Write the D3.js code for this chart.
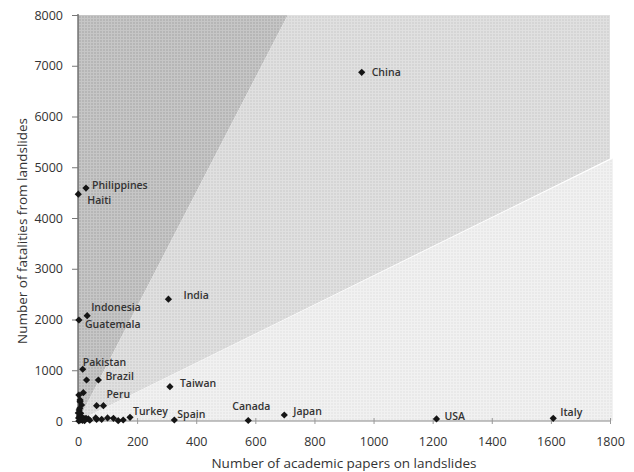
<!DOCTYPE html>
<html>
<head>
<meta charset="utf-8">
<script src="https://cdn.jsdelivr.net/npm/d3@7/dist/d3.min.js"></script>
<style>
  html, body { margin: 0; padding: 0; background: #fff; }
  svg { display: block; }
  text { font-family: "Open Sans", "DejaVu Sans", sans-serif; }
</style>
</head>
<body>
<svg id="chart" width="634" height="472"></svg>
<script>
// ---- data ----
const labeledNames  = ["China","Philippines","Haiti","India","Indonesia","Guatemala","Pakistan","Brazil","Peru","Taiwan","Turkey","Spain","Canada","Japan","USA","Italy"];
const labeledPapers = [960, 27, 1, 306, 31, 3, 16, 69, 86, 311, 176, 326, 576, 698, 1213, 1608];
const labeledDeaths = [6870, 4590, 4470, 2400, 2075, 1990, 1020, 808, 302, 676, 72, 20, 10, 118, 40, 53];
const otherPapers = [29, 63, 3, 18, 7, 7, 12, 4, 9, 5, 2, 10, 15, 20, 27, 35, 6, 3, 12, 63, 80, 120, 136, 153, 100, 40, 60, 1, 8, 14, 22];
const otherDeaths = [808, 302, 512, 558, 414, 380, 315, 217, 151, 100, 60, 30, 10, 50, 53, 40, 250, 0, 80, 33, 33, 53, 6, 20, 60, 15, 60, 160, 20, 45, 5];
const xTicks = [0, 200, 400, 600, 800, 1000, 1200, 1400, 1600, 1800];
const yTicks = [0, 1000, 2000, 3000, 4000, 5000, 6000, 7000, 8000];
// boundary lines of shaded zones (papers, fatalities)
const upperLineEnd = [710, 8000];
const lowerLineEnd = [1810, 5170];
const xTitle = "Number of academic papers on landslides";
const yTitle = "Number of fatalities from landslides";
// label placement offsets in px (dx, dy) — layout only
const labelOffsets = [[10,0],[6,-3],[9,6],[15,-4],[4,-8],[6,4],[0,-7],[7,-4],[3,-11],[10,-3],[3,-6],[3,-6],[-16,-14],[9,-4],[8,-3],[7,-6]];

// ---- layout ----
const svg = d3.select("#chart");
const x = d3.scaleLinear().domain([0, 1800]).range([78, 610]);
const y = d3.scaleLinear().domain([0, 8000]).range([421, 15]);
const xMaxR = 1810;
const yTopVal = 8000;

// patterns
const defs = svg.append("defs");
function makePattern(id, base, lineCol) {
  const p = defs.append("pattern").attr("id", id).attr("patternUnits", "userSpaceOnUse")
    .attr("width", 3).attr("height", 3);
  p.append("rect").attr("width", 3).attr("height", 3).attr("fill", base);
  p.append("rect").attr("x", 0).attr("y", 0).attr("width", 1).attr("height", 3).attr("fill", lineCol);
  p.append("rect").attr("x", 0).attr("y", 0).attr("width", 3).attr("height", 1).attr("fill", lineCol);
}
makePattern("pDark", "#b6b6b6", "#c6c6c6");
makePattern("pMid", "#d5d5d5", "#e0e0e0");
makePattern("pLight", "#e9e9e9", "#f1f1f1");

const poly = d3.line().x(d => x(d[0])).y(d => y(d[1]));
svg.append("path").attr("d", poly([[0,0],upperLineEnd,[0,yTopVal]]) + "Z").attr("fill", "url(#pDark)");
svg.append("path").attr("d", poly([[0,0],upperLineEnd,[xMaxR - 10,yTopVal],[xMaxR - 10, lowerLineEnd[1]]]) + "Z").attr("fill", "url(#pMid)");
svg.append("path").attr("d", poly([[0,0],lowerLineEnd,[xMaxR,0]]) + "Z").attr("fill", "url(#pLight)");

// axes
const yAxis = svg.append("g").attr("transform", `translate(${x(0)},0)`)
  .call(d3.axisLeft(y).tickValues(yTicks).tickSize(6).tickPadding(9).tickFormat(d3.format("d")));
yAxis.select(".domain").attr("stroke", "#555").attr("stroke-width", 1.2).attr("d", `M0,${y(0)}V${y(8000)-1}`);
yAxis.selectAll(".tick line").attr("stroke", "#777");
yAxis.selectAll(".tick text").attr("fill", "#333").style("font-size", "12.5px");

const xAxis = svg.append("g").attr("transform", `translate(0,${y(0)})`)
  .call(d3.axisBottom(x).tickValues(xTicks).tickSize(3).tickPadding(13).tickFormat(d3.format("d")));
xAxis.select(".domain").attr("stroke", "#888").attr("stroke-width", 1).attr("d", `M${x(0)},0H${x(1800)}`);
xAxis.selectAll(".tick line").attr("stroke", "#999").attr("y1", -3).attr("y2", 3);
xAxis.selectAll(".tick text").attr("fill", "#333").style("font-size", "12.5px");

// points
const diamond = d3.symbol().type(d3.symbolSquare).size(26);
const others = otherPapers.map((p, i) => [p, otherDeaths[i]]);
svg.append("g").selectAll("path.o").data(others).join("path")
  .attr("d", diamond).attr("fill", "#151515")
  .attr("transform", d => `translate(${x(d[0])},${y(d[1])}) rotate(45)`);
const labeled = labeledNames.map((n, i) => ({ name: n, p: labeledPapers[i], f: labeledDeaths[i], off: labelOffsets[i] }));
svg.append("g").selectAll("path.l").data(labeled).join("path")
  .attr("d", diamond).attr("fill", "#151515")
  .attr("transform", d => `translate(${x(d.p)},${y(d.f)}) rotate(45)`);
svg.append("g").selectAll("text").data(labeled).join("text")
  .attr("x", d => x(d.p) + d.off[0])
  .attr("y", d => y(d.f) + d.off[1])
  .attr("dy", "0.35em")
  .attr("fill", "#333")
  .style("font-size", "10.5px")
  .style("font-weight", 600)
  .text(d => d.name);

// titles
svg.append("text").attr("x", 344).attr("y", 463).attr("dy", "0.35em").attr("text-anchor", "middle")
  .attr("fill", "#333").style("font-size", "13.5px").text(xTitle);
svg.append("text").attr("transform", "translate(22,231) rotate(-90)").attr("dy", "0.35em").attr("text-anchor", "middle")
  .attr("fill", "#333").style("font-size", "13.5px").text(yTitle);
</script>
</body>
</html>
